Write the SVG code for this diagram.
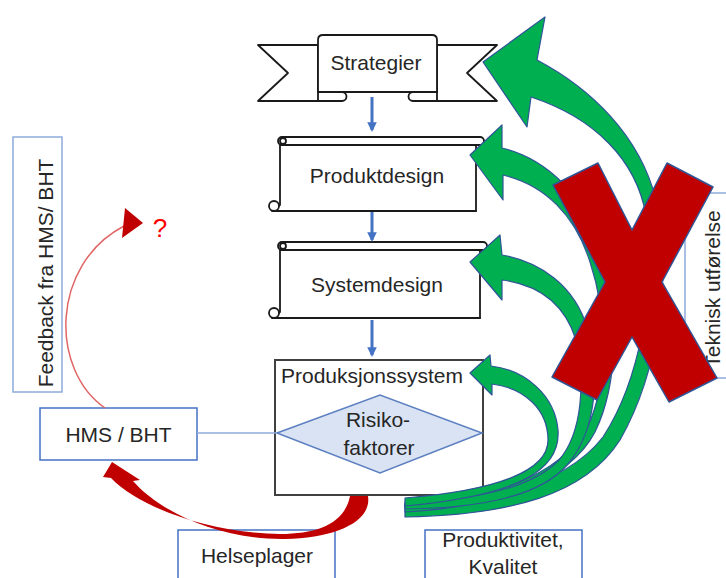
<svg xmlns="http://www.w3.org/2000/svg" width="726" height="578" viewBox="0 0 726 578">
  <style>
    .lbl { font-family: "Liberation Sans", Arial, sans-serif; font-size: 21px; fill: #262626; }
    .ctr { text-anchor: middle; }
    .shape { fill: #ffffff; stroke: #1a1a1a; stroke-width: 1.8; stroke-linejoin: round; }
    .line { fill: none; stroke: #1a1a1a; stroke-width: 1.8; stroke-linecap: round; }
    .box-dark { fill: #ffffff; stroke: #4472c4; stroke-width: 1.5; }
    .box-light { fill: #ffffff; stroke: #8faadc; stroke-width: 1.5; }
    .green { fill: #00b050; stroke: #2f5597; stroke-width: 1.2; stroke-linejoin: round; }
    .flow { stroke: #4472c4; stroke-width: 3; fill: none; }
  </style>
  <defs>
    <marker id="tri" viewBox="0 0 10 10" refX="8" refY="5" markerWidth="3.2" markerHeight="3.2" orient="auto">
      <path d="M0,0 L10,5 L0,10 Z" fill="#4472c4"/>
    </marker>
  </defs>

  <rect width="726" height="578" fill="#ffffff"/>

  <!-- side boxes -->
  <g id="feedback">
    <rect class="box-light" x="13" y="137" width="49" height="255"/>
    <text class="lbl ctr" transform="translate(53,273) rotate(-90)">Feedback fra HMS/ BHT</text>
  </g>
  <g id="teknisk">
    <rect class="box-light" x="685" y="193" width="60" height="185"/>
    <text class="lbl ctr" transform="translate(720,289) rotate(-90)">Teknisk utførelse</text>
  </g>

  <!-- Strategier ribbon -->
  <g id="strategier">
    <path class="shape" d="M318,45 L258,45 L288,73 L258,101 L342,101 A4.5,4.5 0 0 0 342,92 L318,92 Z"/>
    <path class="shape" d="M437,45 L497,45 L467,73 L497,101 L413,101 A4.5,4.5 0 0 1 413,92 L437,92 Z"/>
    <path class="shape" d="M318,92 L318,40 Q318,35 323,35 L432,35 Q437,35 437,40 L437,92 Z"/>
    <path class="line" d="M318,92 L318,101 M437,92 L437,101"/>
    <text class="lbl ctr" x="376" y="70">Strategier</text>
  </g>

  <!-- Produktdesign scroll -->
  <g id="produktdesign">
    <path class="shape" d="M280,145 L476,145 L476,211 L272,211 L280,205 Z"/>
    <rect class="shape" x="278" y="137" width="206" height="8" rx="4"/>
    <circle class="shape" cx="283" cy="141" r="3"/>
    <circle class="shape" cx="274" cy="206" r="5"/>
    <path class="line" d="M274,211 L476,211"/>
    <text class="lbl ctr" x="377" y="183">Produktdesign</text>
  </g>

  <!-- Systemdesign scroll -->
  <g id="systemdesign">
    <path class="shape" d="M280,250 L480,250 L480,318 L272,318 L280,312 Z"/>
    <rect class="shape" x="278" y="242" width="209" height="8" rx="4"/>
    <circle class="shape" cx="283" cy="246" r="3"/>
    <circle class="shape" cx="274" cy="313" r="5"/>
    <path class="line" d="M274,318 L480,318"/>
    <text class="lbl ctr" x="377" y="292">Systemdesign</text>
  </g>

  <!-- HMS / BHT -->
  <g id="hms">
    <rect class="box-dark" x="40" y="408" width="157" height="52"/>
    <text class="lbl ctr" x="118.5" y="442">HMS / BHT</text>
  </g>

  <!-- Produksjonssystem with risk diamond -->
  <g id="produksjonssystem">
    <rect x="275" y="360" width="208" height="135" fill="#ffffff" stroke="#404040" stroke-width="2"/>
    <text class="lbl ctr" x="372" y="383">Produksjonssystem</text>
    <polygon points="277,433 380,395 482,433 380,473" fill="#dae3f3" stroke="#5b7fc0" stroke-width="1.5"/>
    <text class="lbl ctr" x="378" y="427">Risiko-</text>
    <text class="lbl ctr" x="379" y="455">faktorer</text>
  </g>

  <!-- bottom boxes -->
  <g id="helseplager">
    <rect class="box-dark" x="178" y="530" width="157" height="60"/>
    <text class="lbl ctr" x="257" y="563">Helseplager</text>
  </g>
  <g id="produktivitet">
    <rect class="box-dark" x="425" y="530" width="157" height="60"/>
    <text class="lbl ctr" x="503" y="547">Produktivitet,</text>
    <text class="lbl ctr" x="503" y="574">Kvalitet</text>
  </g>

  <g id="connectors">
    <!-- flow between design levels -->
    <line class="flow" x1="372" y1="97" x2="372" y2="130" marker-end="url(#tri)"/>
    <line class="flow" x1="372" y1="212" x2="372" y2="240" marker-end="url(#tri)"/>
    <line class="flow" x1="372" y1="320" x2="372" y2="355" marker-end="url(#tri)"/>

    <!-- HMS link to risk factors -->
    <line x1="197" y1="433" x2="277" y2="433" stroke="#8faadc" stroke-width="1.3"/>

    <!-- feedback from HMS -->
    <path d="M105,408 C50,370 50,265 124,226" fill="none" stroke="#e06666" stroke-width="1.5"/>
    <polygon points="125,208 143,223 122,238" fill="#c00000"/>
    <text x="160" y="237" font-family="'Liberation Sans', Arial, sans-serif" font-size="26" fill="#ff0000" text-anchor="middle">?</text>

    <!-- health complaints back to HMS -->
    <path d="M368,496 C372,522 335,538 285,539 C220,540 160,512 133,481 L140,480 L112,462 L103,477 L111,478 C140,508 210,533 280,534 C320,534 345,522 350,496 Z" fill="#c00000"/>

    <!-- productivity feedback arrows -->
    <path class="green" d="M537,60 C590,88 640,135 656,200 C672,270 660,370 620,440 C585,495 510,515 405,517 L405,504 C500,502 568,482 603,437 C640,380 656,290 646,215 C636,160 595,118 531,97 L527,127 L483,62 L545,17 Z"/>
    <path class="green" d="M502,148 C545,158 585,195 603,250 C620,310 618,385 595,432 C570,480 500,507 405,512 L405,504 C495,500 560,474 587,428 C610,380 606,310 590,262 C575,215 545,185 503,175 L503,200 L470,155 L502,125 Z"/>
    <path class="green" d="M502,255 C540,262 575,285 588,330 C600,380 596,430 568,464 C540,497 480,508 405,509 L405,502 C478,500 533,487 559,460 C583,432 585,380 576,340 C565,305 540,285 502,280 L502,300 L470,262 L500,235 Z"/>
    <path class="green" d="M491,366 C525,370 555,395 558,430 C561,470 520,495 405,506 L405,498 C500,490 548,470 548,440 C548,410 525,388 492,384 L492,395 L470,373 L490,355 Z"/>
  </g>

  <!-- cross over the technical chain -->
  <g id="cross">
    <polygon points="553,185 598,163 632,230 667,163 713,187 662,282 717,378 669,402 632,337 597,400 552,377 605,282" fill="#c00000" stroke="#2f5597" stroke-width="1.5" stroke-linejoin="round"/>
  </g>
</svg>
